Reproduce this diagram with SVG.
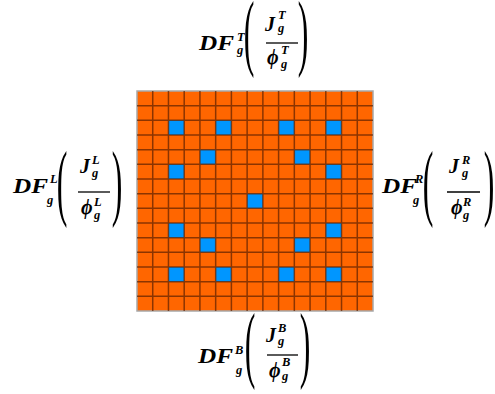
<svg xmlns="http://www.w3.org/2000/svg" width="495" height="394" viewBox="0 0 495 394">
<style>
.m{font-family:"Liberation Serif","DejaVu Serif","Times New Roman",serif;font-weight:bold;font-style:italic;fill:#000}
.big{font-size:20px}
.sm{font-size:12.5px}
.par{font-family:"Liberation Serif","Times New Roman",serif;font-size:84px;text-anchor:middle;fill:#000}
.fl{stroke:#000;stroke-width:1.3}
.b{fill:#0096FF}
</style>
<rect width="495" height="394" fill="#fff"/>
<g id="grid">
<rect x="137" y="91" width="236" height="220" fill="#FF6600" stroke="#a8a8a8" stroke-width="1.5"/>
<g id="blue">
<rect class="b" x="168.47" y="120.33" width="15.73" height="14.67"/>
<rect class="b" x="215.67" y="120.33" width="15.73" height="14.67"/>
<rect class="b" x="278.6" y="120.33" width="15.73" height="14.67"/>
<rect class="b" x="325.8" y="120.33" width="15.73" height="14.67"/>
<rect class="b" x="199.93" y="149.67" width="15.73" height="14.67"/>
<rect class="b" x="294.33" y="149.67" width="15.73" height="14.67"/>
<rect class="b" x="168.47" y="164.33" width="15.73" height="14.67"/>
<rect class="b" x="325.8" y="164.33" width="15.73" height="14.67"/>
<rect class="b" x="247.13" y="193.67" width="15.73" height="14.67"/>
<rect class="b" x="168.47" y="223" width="15.73" height="14.67"/>
<rect class="b" x="325.8" y="223" width="15.73" height="14.67"/>
<rect class="b" x="199.93" y="237.67" width="15.73" height="14.67"/>
<rect class="b" x="294.33" y="237.67" width="15.73" height="14.67"/>
<rect class="b" x="168.47" y="267" width="15.73" height="14.67"/>
<rect class="b" x="215.67" y="267" width="15.73" height="14.67"/>
<rect class="b" x="278.6" y="267" width="15.73" height="14.67"/>
<rect class="b" x="325.8" y="267" width="15.73" height="14.67"/>
</g>
<path fill="none" stroke="#5a2000" stroke-opacity="0.7" stroke-width="1.5" d="M152.73 91V311M168.47 91V311M184.2 91V311M199.93 91V311M215.67 91V311M231.4 91V311M247.13 91V311M262.87 91V311M278.6 91V311M294.33 91V311M310.07 91V311M325.8 91V311M341.53 91V311M357.27 91V311M137 105.67H373M137 120.33H373M137 135H373M137 149.67H373M137 164.33H373M137 179H373M137 193.67H373M137 208.33H373M137 223H373M137 237.67H373M137 252.33H373M137 267H373M137 281.67H373M137 296.33H373"/>
</g>
<g id="label-top">
<text class="m big" x="199" y="50" textLength="35" lengthAdjust="spacingAndGlyphs">DF</text>
<text class="m sm" x="237" y="41">T</text>
<text class="m sm" x="237" y="54">g</text>
<text class="par" transform="translate(249,60) scale(0.38,1)">(</text>
<text class="m big" x="265" y="31">J</text>
<text class="m sm" x="278" y="19">T</text>
<text class="m sm" x="278" y="32">g</text>
<line class="fl" x1="266" y1="43" x2="298" y2="43"/>
<text class="m big" x="267" y="64">ϕ</text>
<text class="m sm" x="281" y="54">T</text>
<text class="m sm" x="281" y="68">g</text>
<text class="par" transform="translate(303,60) scale(0.38,1)">)</text>
</g>
<g id="label-left">
<text class="m big" x="13" y="193" textLength="35" lengthAdjust="spacingAndGlyphs">DF</text>
<text class="m sm" x="50" y="183">L</text>
<text class="m sm" x="47" y="204">g</text>
<text class="par" transform="translate(62,210) scale(0.38,1)">(</text>
<text class="m big" x="80" y="173">J</text>
<text class="m sm" x="92" y="164">L</text>
<text class="m sm" x="92" y="177">g</text>
<line class="fl" x1="78" y1="192" x2="110" y2="192"/>
<text class="m big" x="81" y="214">ϕ</text>
<text class="m sm" x="94" y="206">L</text>
<text class="m sm" x="94" y="219">g</text>
<text class="par" transform="translate(117,210) scale(0.38,1)">)</text>
</g>
<g id="label-right">
<text class="m big" x="382" y="193" textLength="35" lengthAdjust="spacingAndGlyphs">DF</text>
<text class="m sm" x="415" y="183">R</text>
<text class="m sm" x="413" y="204">g</text>
<text class="par" transform="translate(428,210) scale(0.38,1)">(</text>
<text class="m big" x="449" y="173">J</text>
<text class="m sm" x="462" y="164">R</text>
<text class="m sm" x="462" y="177">g</text>
<line class="fl" x1="447" y1="192" x2="480" y2="192"/>
<text class="m big" x="451" y="214">ϕ</text>
<text class="m sm" x="463" y="206">R</text>
<text class="m sm" x="463" y="219">g</text>
<text class="par" transform="translate(489,210) scale(0.38,1)">)</text>
</g>
<g id="label-bottom">
<text class="m big" x="198" y="363" textLength="35" lengthAdjust="spacingAndGlyphs">DF</text>
<text class="m sm" x="235" y="354">B</text>
<text class="m sm" x="236" y="374">g</text>
<text class="par" transform="translate(250,372) scale(0.38,1)">(</text>
<text class="m big" x="266" y="342">J</text>
<text class="m sm" x="278" y="332">B</text>
<text class="m sm" x="278" y="345">g</text>
<line class="fl" x1="267" y1="355" x2="298" y2="355"/>
<text class="m big" x="269" y="377">ϕ</text>
<text class="m sm" x="282" y="366">B</text>
<text class="m sm" x="282" y="380">g</text>
<text class="par" transform="translate(305,372) scale(0.38,1)">)</text>
</g>
</svg>
